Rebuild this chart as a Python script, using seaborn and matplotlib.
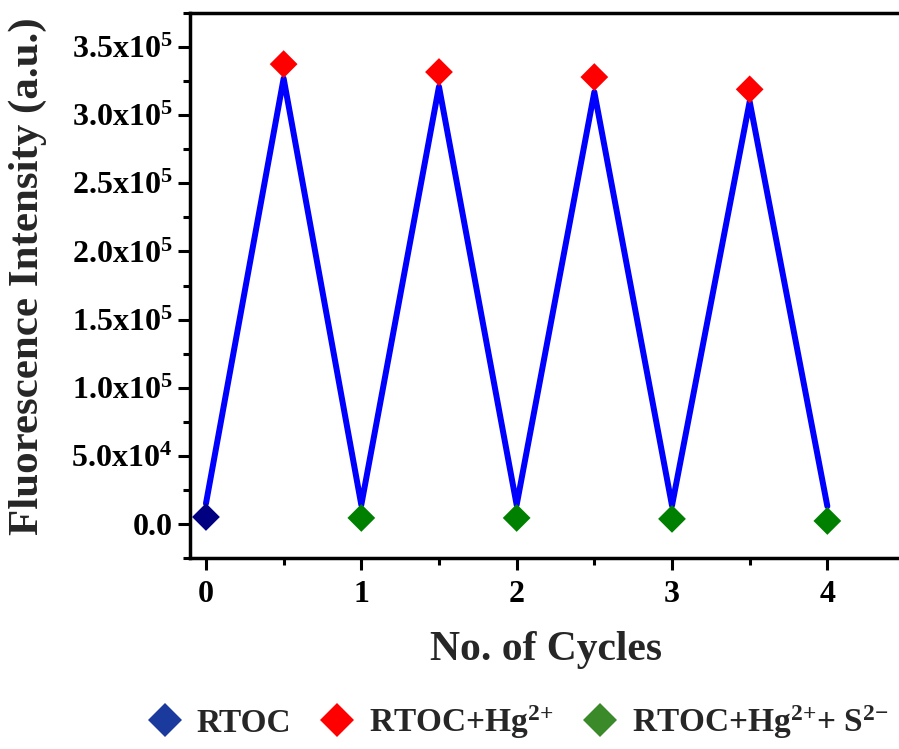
import matplotlib
matplotlib.use("Agg")
import matplotlib.pyplot as plt
from matplotlib.lines import Line2D
from matplotlib.ticker import MultipleLocator, FixedLocator, FixedFormatter
import seaborn as sns
import pandas as pd

# ---- data ----
line_x = [0, 0.5, 1, 1.5, 2, 2.5, 3, 3.5, 4]
line_y = [1.5e4, 3.27e5, 1.4e4, 3.21e5, 1.4e4, 3.17e5, 1.35e4, 3.10e5, 1.3e4]

rtoc_x = [0]
rtoc_y = [5100]
hg_x = [0.5, 1.5, 2.5, 3.5]
hg_y = [3.375e5, 3.317e5, 3.28e5, 3.19e5]
s_x = [1, 2, 3, 4]
s_y = [4400, 4400, 3700, 2200]

series_names = ["RTOC", "RTOC+Hg$^{2{+}}$", "RTOC+Hg$^{2{+}}$+ S$^{2{-}}$"]
marker_colors = ["#000080", "#ff0000", "#008000"]
legend_colors = ["#1a3a9e", "#ff0000", "#3b8a2a"]

yticks = [0, 5e4, 1e5, 1.5e5, 2e5, 2.5e5, 3e5, 3.5e5]
ytick_labels = ["0.0", "5.0x10$^{4}$", "1.0x10$^{5}$", "1.5x10$^{5}$",
                "2.0x10$^{5}$", "2.5x10$^{5}$", "3.0x10$^{5}$", "3.5x10$^{5}$"]
xticks = [0, 1, 2, 3, 4]

sns.set_theme(style="white")
plt.rcParams["font.family"] = ["Liberation Serif", "DejaVu Serif"]
plt.rcParams["font.weight"] = "bold"
plt.rcParams["mathtext.fontset"] = "custom"
plt.rcParams["mathtext.rm"] = "Liberation Serif:bold"
plt.rcParams["mathtext.bf"] = "Liberation Serif:bold"
plt.rcParams["mathtext.it"] = "Liberation Serif:bold"
plt.rcParams["mathtext.default"] = "rm"

fig = plt.figure(figsize=(8.99, 7.49), dpi=100)
ax = fig.add_axes([0.2113, 0.255, 1.0067 - 0.2113, 0.9826 - 0.255])

df_line = pd.DataFrame({"x": line_x, "y": line_y})
sns.lineplot(data=df_line, x="x", y="y", color="#0000ff", lw=4.3, ax=ax,
             sort=False, zorder=2)

pts = pd.DataFrame({
    "x": rtoc_x + hg_x + s_x,
    "y": rtoc_y + hg_y + s_y,
    "series": [series_names[0]] * len(rtoc_x) + [series_names[1]] * len(hg_x)
              + [series_names[2]] * len(s_x),
})
sns.scatterplot(data=pts, x="x", y="y", hue="series",
                palette=dict(zip(series_names, marker_colors)),
                marker="D", s=200, linewidth=0, legend=False, ax=ax, zorder=3)

ax.set_xlim(-0.103, 4.5)
ax.set_ylim(-2.5e4, 3.75e5)

ax.xaxis.set_major_locator(FixedLocator(xticks))
ax.xaxis.set_minor_locator(MultipleLocator(0.5))
ax.yaxis.set_major_locator(FixedLocator(yticks))
ax.yaxis.set_major_formatter(FixedFormatter(ytick_labels))
ax.yaxis.set_minor_locator(MultipleLocator(2.5e4))

ax.tick_params(axis="both", which="major", direction="out", length=8.6,
               width=2.2, labelsize=23, color="black", labelcolor="black")
ax.tick_params(axis="both", which="minor", direction="out", length=5,
               width=2.2, color="black")
ax.tick_params(axis="x", which="both", bottom=True, top=False, pad=7)
ax.tick_params(axis="y", which="both", left=True, right=False, pad=4)
for lab in ax.get_xticklabels() + ax.get_yticklabels():
    lab.set_fontweight("bold")

for side in ["left", "bottom", "top", "right"]:
    ax.spines[side].set_linewidth(2.5)
    ax.spines[side].set_color("black")

ax.set_xlabel("No. of Cycles", fontsize=30, fontweight="bold", va="center")
ax.xaxis.set_label_coords(0.498, -0.169)
ax.set_ylabel("Fluorescence Intensity (a.u.)", fontsize=31, fontweight="bold",
              va="center")
ax.yaxis.set_label_coords(-0.2266, 0.517)

handles = [Line2D([0], [0], marker="D", linestyle="none", markersize=17.5,
                  markerfacecolor=c, markeredgewidth=0, color=c)
           for c in legend_colors]
fig.legend(handles, series_names, loc="center", bbox_to_anchor=(0.576, 0.036),
           ncol=3, frameon=False, handlelength=1.0, handletextpad=0.45,
           columnspacing=0.9, prop={"family": "Liberation Serif",
                                    "weight": "bold", "size": 24})

fig.savefig("out.png", dpi=100)
